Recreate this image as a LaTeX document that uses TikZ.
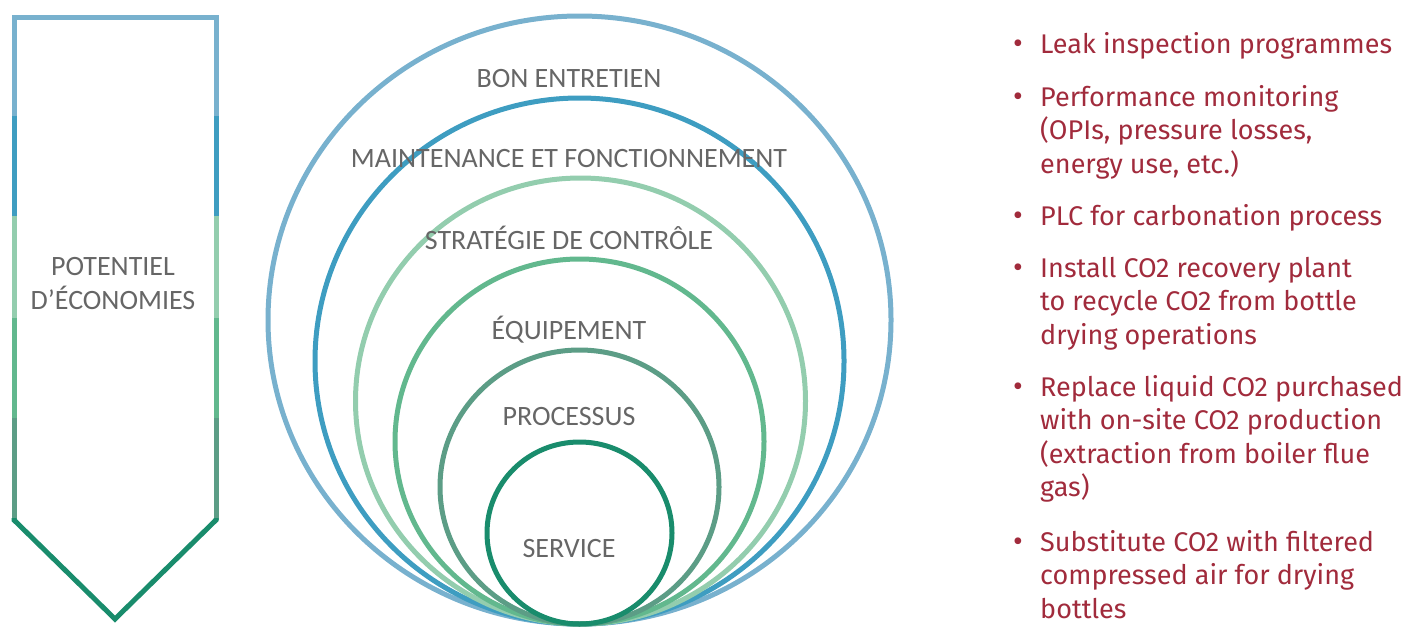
\documentclass[tikz,border=0pt]{standalone}
\usepackage{fontspec}
\setmainfont{Carlito}
\newfontfamily\listfont{Fira Sans}
\definecolor{cLB}{HTML}{78B1CE}
\definecolor{cBL}{HTML}{3E9DC1}
\definecolor{cLG}{HTML}{93CDAE}
\definecolor{cGR}{HTML}{62B88E}
\definecolor{cGG}{HTML}{5C9D86}
\definecolor{cDG}{HTML}{198C6C}
\definecolor{cTX}{HTML}{666666}
\definecolor{cRD}{HTML}{A12B3C}
\begin{document}
\begin{tikzpicture}[x=1pt,y=-1pt,
  ring/.style={line width=5pt},
  edge/.style={line width=5pt},
  lab/.style={anchor=base,inner sep=0pt,text=cTX,font=\fontsize{28}{30}\selectfont},
  item/.style={anchor=base west,inner sep=0pt,text=cRD,align=left,
    font=\listfont\fontsize{27}{33.5}\selectfont},
  bul/.style={anchor=base,inner sep=0pt,text=cRD,font=\listfont\fontsize{30}{33.5}\selectfont}]
\useasboundingbox (0,0) rectangle (1404,629);
% arrow
\draw[edge,cLB,line join=miter] (14,116) -- (14,17) -- (216,17) -- (216,116);
\draw[edge,cBL] (14,116) -- (14,216) (216,116) -- (216,216);
\draw[edge,cLG] (14,216) -- (14,318) (216,216) -- (216,318);
\draw[edge,cGR] (14,318) -- (14,418) (216,318) -- (216,418);
\draw[edge,cGG] (14,418) -- (14,520) (216,418) -- (216,520);
\draw[edge,cDG,line join=miter] (14,518) -- (14,520) -- (115,619) -- (216,520) -- (216,518);
\node[lab] (pot1) at (113,275) {POTENTIEL};
\node[lab] (pot2) at (113,309) {D’ÉCONOMIES};
% rings
\draw[ring,cLB] (579.5,320) ellipse [x radius=311.5pt, y radius=304pt];
\draw[ring,cBL] (579.5,361) ellipse [x radius=264.5pt, y radius=263pt];
\draw[ring,cLG] (580.5,401) ellipse [x radius=225pt, y radius=223pt];
\draw[ring,cGR] (579.5,441.5) ellipse [x radius=184.5pt, y radius=182.5pt];
\draw[ring,cGG] (579.5,487) ellipse [x radius=139.5pt, y radius=137pt];
\draw[ring,cDG] (579.5,533) ellipse [x radius=92.5pt, y radius=91pt];
\node[lab] (l1) at (569,87) {BON ENTRETIEN};
\node[lab] (l2) at (569,167) {MAINTENANCE ET FONCTIONNEMENT};
\node[lab] (l3) at (569,249) {STRATÉGIE DE CONTRÔLE};
\node[lab] (l4) at (569,339) {ÉQUIPEMENT};
\node[lab] (l5) at (569,425) {PROCESSUS};
\node[lab] (l6) at (569,557) {SERVICE};
% list (base anchor = baseline of last line)
\node[bul] (b1) at (1018,53) {•};
\node[item] (i1) at (1040,53) {Leak inspection programmes};
\node[bul] (b2) at (1018,106) {•};
\node[item] (i2) at (1040,173) {Performance monitoring\\(OPIs, pressure losses,\\energy use, etc.)};
\node[bul] (b3) at (1018,225) {•};
\node[item] (i3) at (1040,225) {PLC for carbonation process};
\node[bul] (b4) at (1018,277) {•};
\node[item] (i4) at (1040,344) {Install CO2 recovery plant\\to recycle CO2 from bottle\\drying operations};
\node[bul] (b5) at (1018,396) {•};
\node[item] (i5) at (1040,496.5) {Replace liquid CO2 purchased\\with on-site CO2 production\\(extraction from boiler flue\\gas)};
\node[bul] (b6) at (1018,551) {•};
\node[item] (i6) at (1040,618) {Substitute CO2 with filtered\\compressed air for drying\\bottles};
\end{tikzpicture}
\end{document}
